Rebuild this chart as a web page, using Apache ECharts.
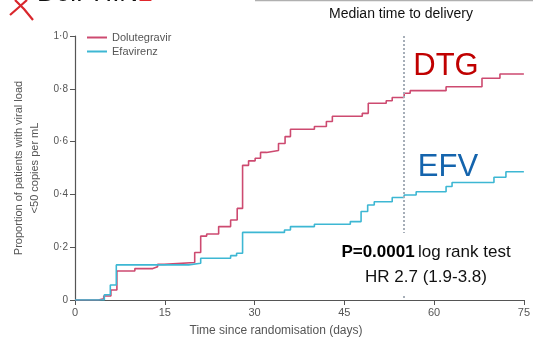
<!DOCTYPE html>
<html>
<head>
    <meta charset="utf-8">
    <script src="https://cdn.jsdelivr.net/npm/echarts@6/dist/echarts.min.js"></script>
    <style>
        html, body { margin: 0; padding: 0; background: #fff; }
    </style>
</head>
<body>
<div id="main" style="width: 533px;height:343px;"></div>
<script type="text/javascript">
    // Kaplan-Meier style step data: [day, proportion]
    var dtgData = [[0, 0], [3.9, 0.005], [4.8, 0.015], [6, 0.038], [7, 0.11], [10, 0.119], [13, 0.126], [13.8, 0.135],
        [14.9, 0.142], [20, 0.18], [21, 0.242], [22, 0.25], [24, 0.278], [26, 0.303], [27.1, 0.347], [28, 0.51],
        [29, 0.527], [30.1, 0.537], [31, 0.559], [32, 0.566], [34, 0.593], [35.1, 0.619], [36, 0.647], [40, 0.657],
        [42, 0.676], [43, 0.696], [48, 0.707], [49, 0.745], [52, 0.755], [53, 0.767], [55, 0.783], [56, 0.793],
        [62, 0.808], [68, 0.84], [71, 0.856], [75, 0.856]];
    var efvData = [[0, 0], [4.9, 0.02], [5.9, 0.057], [6.9, 0.133], [19, 0.139], [21, 0.158], [26, 0.168], [27, 0.177],
        [28, 0.256], [35, 0.265], [36, 0.278], [40, 0.287], [46, 0.297], [47.8, 0.335], [48.9, 0.36], [50, 0.372],
        [53, 0.388], [55, 0.398], [57, 0.41], [62, 0.43], [63, 0.445], [70, 0.465], [72, 0.486], [75, 0.486]];
    var seriesNames = ['Dolutegravir', 'Efavirenz'];
    var xTicks = [0, 15, 30, 45, 60, 75];
    var yTicks = [0, 0.2, 0.4, 0.6, 0.8, 1.0];
    var medianDay = 55;

    var labelFont = "'Liberation Sans Narrow', 'Liberation Sans', Arial, sans-serif";
    var bigFont = 'Arial, "Liberation Sans", sans-serif';

    var myChart = echarts.init(document.getElementById('main'));

    var option = {
        animation: false,
        backgroundColor: '#fff',
        grid: {left: 75, right: 6, top: 36, bottom: 43},
        legend: {
            orient: 'vertical',
            left: 82,
            top: 27,
            itemWidth: 20,
            itemHeight: 2,
            itemGap: 3,
            icon: 'rect',
            data: seriesNames,
            textStyle: {fontFamily: labelFont, fontSize: 11, color: '#555'}
        },
        xAxis: {
            type: 'value',
            min: xTicks[0],
            max: xTicks[xTicks.length - 1],
            interval: 15,
            axisLine: {lineStyle: {color: '#555', width: 1.2}},
            axisTick: {show: true, length: 5, lineStyle: {color: '#555'}},
            splitLine: {show: false},
            axisLabel: {fontFamily: labelFont, fontSize: 11, color: '#555', margin: 7}
        },
        yAxis: {
            type: 'value',
            min: yTicks[0],
            max: yTicks[yTicks.length - 1],
            interval: 0.2,
            axisLine: {show: true, lineStyle: {color: '#555', width: 1.2}},
            axisTick: {show: true, length: 5, lineStyle: {color: '#555'}},
            splitLine: {show: false},
            axisLabel: {
                fontFamily: labelFont, fontSize: 10, color: '#555', margin: 7,
                formatter: function (v) {
                    if (v === 0) return '0';
                    return v.toFixed(1).replace('.', '·');
                }
            }
        },
        series: [
            {
                name: seriesNames[0],
                type: 'line',
                step: 'end',
                showSymbol: false,
                data: dtgData,
                color: '#cd4a70',
                lineStyle: {width: 1.6, color: '#cd4a70'},
                markLine: {
                    silent: true,
                    symbol: 'none',
                    label: {show: false},
                    lineStyle: {type: [2, 2], color: '#a6aeb8', width: 2},
                    data: [[{coord: [medianDay, 1.0]}, {coord: [medianDay, 0]}]]
                }
            },
            {
                name: seriesNames[1],
                type: 'line',
                step: 'end',
                showSymbol: false,
                data: efvData,
                color: '#3db7d3',
                lineStyle: {width: 1.6, color: '#3db7d3'}
            }
        ],
        graphic: [
            // top header rule and caption
            {type: 'line', z: 100, shape: {x1: 255, y1: 0.5, x2: 533, y2: 0.5}, style: {stroke: '#b0b0b0', lineWidth: 1.5}},
            {type: 'text', z: 100, x: 401, y: 14, style: {text: 'Median time to delivery', font: '14px ' + bigFont, fill: '#111', align: 'center', verticalAlign: 'middle'}},
            // cut-off logo
            {type: 'polyline', z: 100, shape: {points: [[15, 0], [24, 9], [33, 20]]}, style: {stroke: '#d9262c', lineWidth: 2.2, fill: null}},
            {type: 'polyline', z: 100, shape: {points: [[27, 0], [18, 8], [10, 15]]}, style: {stroke: '#d9262c', lineWidth: 2.2, fill: null}},
            {type: 'text', z: 100, x: 37, y: -6, style: {
                text: '{b|DolPHIN}{r|2}', verticalAlign: 'middle',
                rich: {
                    b: {font: '26px ' + bigFont, fill: '#111'},
                    r: {font: '26px ' + bigFont, fill: '#e0262c'}
                }
            }},
            // y axis title
            {type: 'text', z: 100, x: 27, y: 168, rotation: Math.PI / 2, style: {
                text: 'Proportion of patients with viral load\n<50 copies per mL',
                font: '11px ' + labelFont, fill: '#555', align: 'center', verticalAlign: 'middle', lineHeight: 16
            }},
            // x axis title
            {type: 'text', z: 100, x: 276, y: 331, style: {
                text: 'Time since randomisation (days)', font: '12px ' + labelFont, fill: '#555', align: 'center', verticalAlign: 'middle'
            }},
            // arm labels
            {type: 'text', z: 100, x: 446, y: 66, style: {text: 'DTG', font: '31px ' + bigFont, fill: '#c00000', align: 'center', verticalAlign: 'middle'}},
            {type: 'text', z: 100, x: 448, y: 167, style: {text: 'EFV', font: '31px ' + bigFont, fill: '#1464ad', align: 'center', verticalAlign: 'middle'}},
            // stats box (white, hides the dotted line underneath)
            {type: 'rect', z: 100, shape: {x: 330, y: 233, width: 195, height: 62}, style: {fill: '#fff'}},
            {type: 'text', z: 101, x: 426, y: 252, style: {
                text: '{b|P=0.0001} {n|log rank test}', align: 'center', verticalAlign: 'middle',
                rich: {
                    b: {font: 'bold 17px ' + bigFont, fill: '#000'},
                    n: {font: '17px ' + bigFont, fill: '#111'}
                }
            }},
            {type: 'text', z: 101, x: 426, y: 277, style: {text: 'HR 2.7 (1.9-3.8)', font: '17px ' + bigFont, fill: '#111', align: 'center', verticalAlign: 'middle'}}
        ]
    };

    myChart.setOption(option);
</script>
</body>
</html>
